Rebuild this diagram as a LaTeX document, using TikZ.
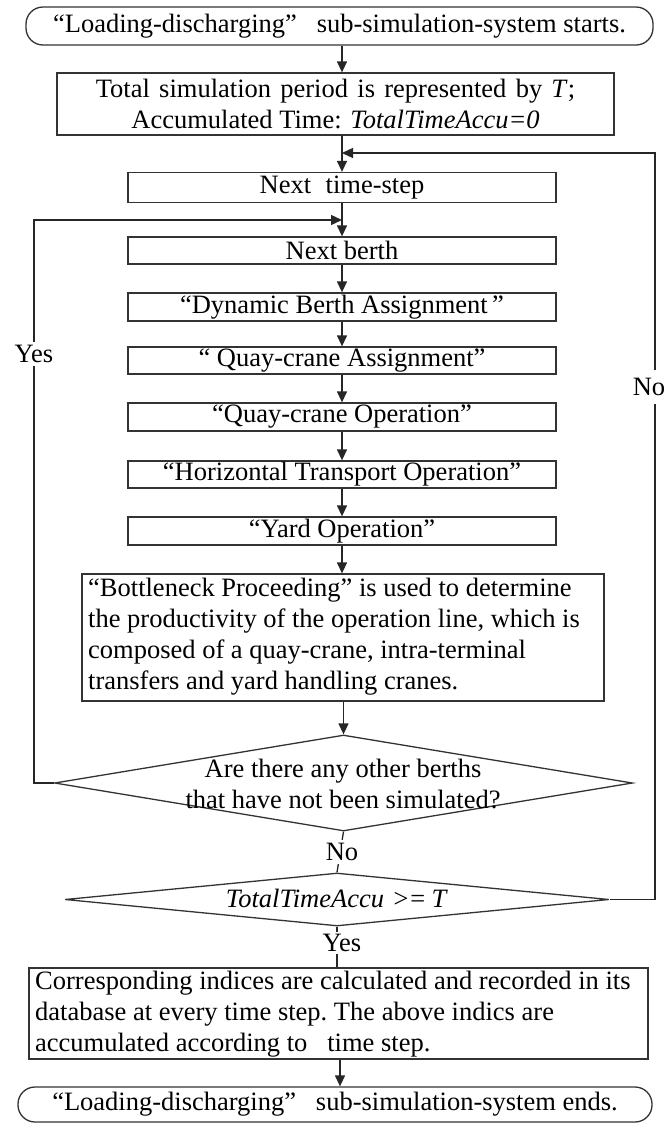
\documentclass[tikz,border=0pt]{standalone}
\usepackage{fontspec}
\setmainfont{Liberation Serif}
\usetikzlibrary{arrows.meta,shapes.geometric,calc}
\begin{document}
\begin{tikzpicture}[x=1pt,y=-1pt,
  every node/.style={font=\fontsize{26.5}{31}\selectfont, inner sep=0pt},
  box/.style={draw=black!80, line width=1.3pt, rectangle, minimum height=28pt, minimum width=428pt},
  term/.style={draw=black!80, line width=1.3pt, rectangle, rounded corners=17pt},
  dia/.style={draw=black!80, line width=1.3pt, diamond},
  conn/.style={draw=black!85, line width=1.3pt},
  arr/.style={conn, -{Triangle[length=11pt,width=10pt]}},
  lab/.style={fill=white, inner xsep=2pt, inner ysep=3pt}]
\useasboundingbox (0,0) rectangle (667,1125);
\clip (0,0) rectangle (667,1125);
\fill[white] (0,0) rectangle (667,1125);

% nodes
\node[term, minimum width=627pt, minimum height=38pt] (start) at (339.5,26)
  {“Loading-discharging”\hspace{0.75em}sub-simulation-system starts.};
\node[box, minimum width=557pt, minimum height=62pt, align=center] (init) at (335.5,104)
  {Total\hspace{0.35em}simulation\hspace{0.35em}period\hspace{0.35em}is\hspace{0.35em}represented\hspace{0.35em}by\hspace{0.35em}\textit{T};\\Accumulated Time: \textit{TotalTimeAccu=0}};
\node[box, minimum height=30pt] (nts) at (342,187.5) {Next\hspace{0.3em} time-step};
\node[box, minimum height=27pt] (nb) at (342,250.5) {Next berth};
\node[box] (dba) at (342,307) {“Dynamic Berth Assignment\,”};
\node[box, minimum height=27pt] (qca) at (342,360.5) {“ Quay-crane Assignment”};
\node[box] (qco) at (342,417) {“Quay-crane Operation”};
\node[box, minimum height=27pt] (hto) at (342,474.5) {“Horizontal Transport Operation”};
\node[box] (yo) at (342,531) {“Yard Operation”};
\node[box, minimum width=522pt, minimum height=127pt] (bn) at (343,637.5) {};
\node[anchor=west, align=left] (bnt) at (88,636.5)
  {“Bottleneck Proceeding” is used to determine\\the productivity of the operation line, which is\\composed of a quay-crane, intra-terminal\\transfers and yard handling cranes.};
\node[dia, minimum width=578pt, minimum height=96pt] (d1) at (343.5,783) {};
\node[align=center] (d1t) at (343,783.5) {Are there any other berths\\that have not been simulated?};
\node[dia, minimum width=544pt, minimum height=53pt] (d2) at (337,899.5) {};
\node (d2t) at (337,898) {\textit{TotalTimeAccu\hspace{0.3em}>\kern-0.05em=\hspace{0.2em}T}};
\node[box, minimum width=619pt, minimum height=91pt] (fin) at (338.5,1013.5) {};
\node[anchor=west, align=left, font=\fontsize{26.5}{31}\selectfont] (fint) at (35,1014)
  {Corresponding indices are calculated and recorded in its\\database at every time step.\ The above indics are\\accumulated according to\hspace{0.5em} time step.};
\node[term, minimum width=634pt, minimum height=35pt] (end) at (335,1104.5)
  {“Loading-discharging”\hspace{0.75em}sub-simulation-system ends.};

% junctions
\coordinate (jn) at (342,153);
\coordinate (jb) at (342,220);
\coordinate (lc) at (34,220);
\coordinate (rc) at (655,153);

% connectors
\draw[arr] (start.south -| nts.north) -- (init.north -| nts.north);
\draw[arr] (init.south -| nts.north) -- (nts.north);
\draw[arr] (nts.south) -- (nb.north);
\draw[arr] (nb.south) -- (dba.north);
\draw[arr] (dba.south) -- (qca.north);
\draw[arr] (qca.south) -- (qco.north);
\draw[arr] (qco.south) -- (hto.north);
\draw[arr] (hto.south) -- (yo.north);
\draw[arr] (yo.south) -- (bn.north -| yo.south);
\draw[arr] (bn.south -| d1.north) -- (d1.north);
\draw[conn] (d1.south) -- (d2.north);
\draw[conn] (d2.south) -- (fin.north -| d2.south);
\draw[arr] (fin.south -| 340,0) -- (end.north -| 340,0);
\draw[arr] (d1.west) -| (lc) -- (jb);
\draw[arr] (d2.east) -| (rc) -- (jn);

% labels
\node[lab] (yes1) at (34,354) {Yes};
\node[lab, inner ysep=8pt] (no1) at (649,387) {No};
\node[lab] (no2) at (342,852) {No};
\node[lab, inner ysep=2pt] (yes2) at (342,943) {Yes};
\end{tikzpicture}
\end{document}
